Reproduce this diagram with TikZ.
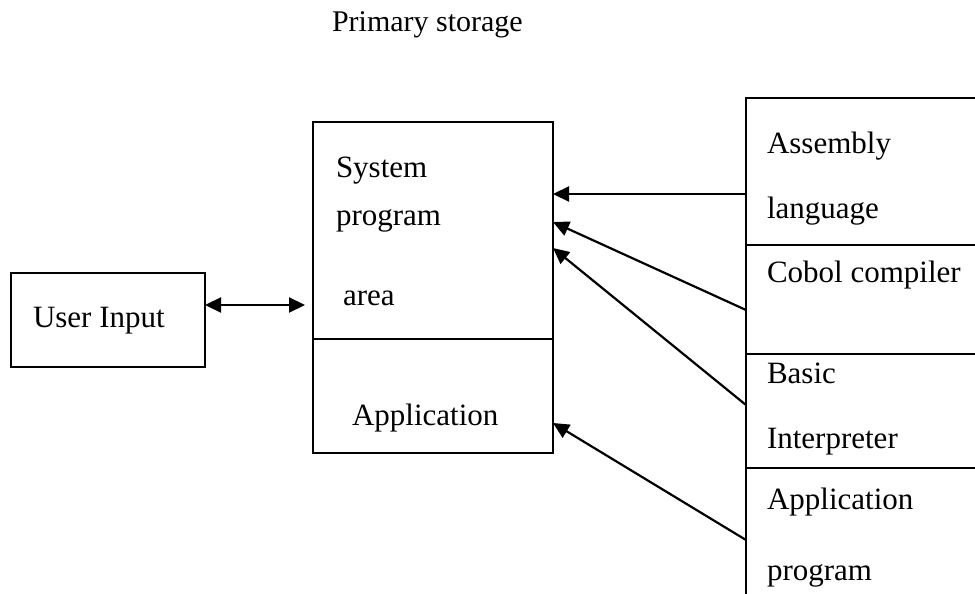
\documentclass[tikz,border=0pt]{standalone}
\usepackage{fontspec}
\setmainfont{Liberation Serif}
\usetikzlibrary{arrows.meta}
\begin{document}
\begin{tikzpicture}[x=1pt,y=-1pt,
  every node/.style={inner sep=0pt, outer sep=0pt},
  lbl/.style={font=\fontsize{31}{37}\selectfont, anchor=base west},
  frame/.style={draw, line width=2.4pt},
  cell/.style={anchor=north west, minimum width=229pt},
  link/.style={line width=2.2pt, -{Triangle[length=16pt,width=15pt]}},
]
\useasboundingbox (0,0) rectangle (975,594);

% heading
\node[font=\fontsize{30}{36}\selectfont, anchor=base west] (title) at (332,32) {Primary storage};

% user input box
\node[frame, minimum width=194pt, minimum height=94pt] (user) at (108,320) {};
\node[lbl] (userlbl) at (33,327) {User Input};

% primary storage: system area above, application area below
\node[frame, minimum width=240pt, minimum height=217pt] (sys) at (433,230.5) {};
\node[frame, minimum width=240pt, minimum height=114pt] (app) at (433,396) {};
\node[lbl] (sys1) at (336,177) {System};
\node[lbl] (sys2) at (336,225) {program};
\node[lbl] (sys3) at (343,305) {area};
\node[lbl] (applbl) at (352,425) {Application};

% software column on the right (open to the right and below)
\node[cell, minimum height=147pt] (asm) at (746,98) {};
\node[cell, minimum height=109pt] (cobol) at (746,245) {};
\node[cell, minimum height=114pt] (basic) at (746,354) {};
\node[cell, minimum height=126pt] (prog) at (746,468) {};
\draw[frame] (asm.north east) -- (asm.north west) -- (prog.south west);
\draw[frame] (cobol.north west) -- (cobol.north east);
\draw[frame] (basic.north west) -- (basic.north east);
\draw[frame] (prog.north west) -- (prog.north east);

\node[lbl] (asm1) at (767,153) {Assembly};
\node[lbl] (asm2) at (767,218) {language};
\node[lbl] (cob1) at (767,282) {Cobol compiler};
\node[lbl] (bas1) at (767,383) {Basic};
\node[lbl] (bas2) at (767,448) {Interpreter};
\node[lbl] (prg1) at (767,509) {Application};
\node[lbl] (prg2) at (767,580) {program};

% connectors
\draw[line width=2.2pt, {Triangle[length=16pt,width=15pt]}-{Triangle[length=16pt,width=15pt]}, shorten >=8pt]
  (user.east |- 0,305) -- (sys.west |- 0,305);
\draw[link] (asm.west |- 0,194) -- (sys.east |- 0,194);
\draw[link] (cobol.west |- 0,310) -- (sys.east |- 0,222);
\draw[link] (basic.west |- 0,405) -- (sys.east |- 0,248);
\draw[link] (prog.west |- 0,540) -- (app.east |- 0,423);
\end{tikzpicture}
\end{document}
